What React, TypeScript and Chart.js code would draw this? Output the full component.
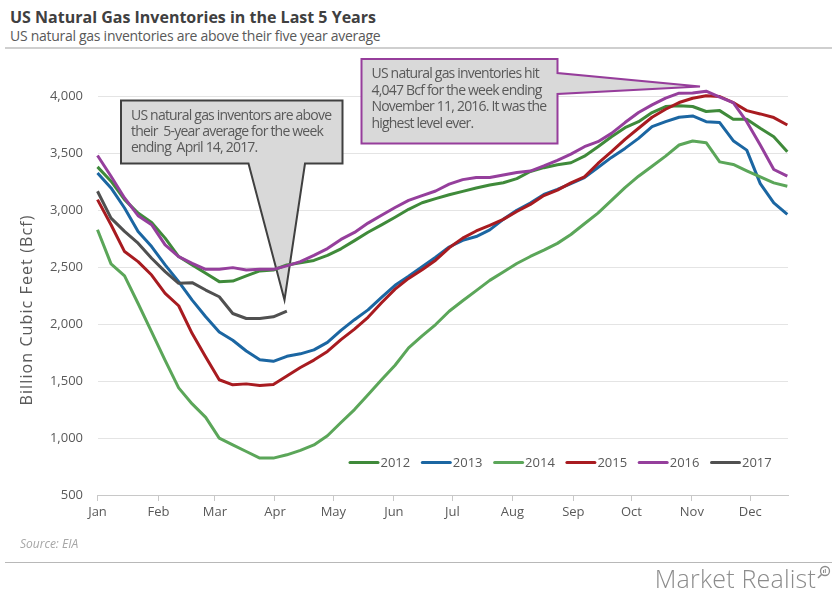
import React, { useEffect, useRef } from "react";
import { Chart, registerables } from "chart.js";

Chart.register(...registerables);

// ---------- data ----------
const years = ["2012", "2013", "2014", "2015", "2016", "2017"];
const monthLabels = ["Jan", "Feb", "Mar", "Apr", "May", "Jun", "Jul", "Aug", "Sep", "Oct", "Nov", "Dec"];
// position of each month label, in weeks from the start of the year
const monthTickWeeks = [0, 4.51, 8.68, 13.12, 17.44, 21.91, 26.24, 30.67, 35.18, 39.47, 43.94, 48.26];
const yAxisTitle = "Billion Cubic Feet (Bcf)";

// weekly working gas in storage, Bcf (week index 0..51)
const inv2012 = [3382, 3256, 3094, 2976, 2894, 2756, 2594, 2521, 2447, 2374, 2379, 2424, 2468, 2476, 2521, 2540, 2560, 2604, 2662, 2734, 2808, 2872, 2939, 3009, 3067, 3103, 3137, 3167, 3196, 3222, 3243, 3279, 3341, 3375, 3400, 3418, 3476, 3559, 3647, 3726, 3779, 3859, 3912, 3918, 3912, 3868, 3876, 3800, 3800, 3721, 3647, 3515];
const inv2013 = [3329, 3197, 3021, 2815, 2682, 2521, 2374, 2212, 2065, 1932, 1859, 1765, 1688, 1674, 1718, 1740, 1775, 1840, 1946, 2040, 2126, 2236, 2342, 2421, 2505, 2588, 2678, 2736, 2770, 2829, 2921, 3001, 3065, 3140, 3185, 3235, 3288, 3376, 3465, 3544, 3632, 3735, 3779, 3818, 3829, 3779, 3771, 3612, 3529, 3235, 3065, 2965];
const inv2014 = [2830, 2530, 2424, 2182, 1932, 1682, 1441, 1300, 1182, 1000, 941, 882, 824, 824, 853, 892, 940, 1020, 1137, 1250, 1380, 1512, 1640, 1792, 1897, 1997, 2114, 2206, 2295, 2385, 2459, 2533, 2595, 2650, 2710, 2788, 2882, 2976, 3088, 3200, 3300, 3388, 3476, 3574, 3609, 3594, 3426, 3403, 3347, 3294, 3241, 3212];
const inv2015 = [3094, 2874, 2638, 2550, 2432, 2271, 2162, 1918, 1712, 1512, 1468, 1476, 1462, 1471, 1545, 1620, 1685, 1761, 1865, 1957, 2061, 2189, 2308, 2402, 2479, 2562, 2671, 2756, 2819, 2868, 2921, 2990, 3052, 3130, 3178, 3241, 3294, 3412, 3515, 3624, 3721, 3818, 3888, 3947, 3985, 4006, 4000, 3947, 3876, 3847, 3815, 3750];
const inv2016 = [3482, 3300, 3109, 2953, 2874, 2697, 2594, 2535, 2482, 2482, 2497, 2476, 2482, 2482, 2512, 2550, 2605, 2664, 2745, 2806, 2888, 2957, 3025, 3087, 3130, 3170, 3230, 3270, 3289, 3288, 3311, 3333, 3345, 3390, 3440, 3494, 3559, 3603, 3676, 3771, 3859, 3926, 3985, 4029, 4030, 4047, 3994, 3947, 3779, 3574, 3359, 3300];
const inv2017 = [3168, 2932, 2815, 2712, 2579, 2462, 2359, 2365, 2300, 2241, 2094, 2050, 2050, 2065, 2115];

const seriesValues = [inv2012, inv2013, inv2014, inv2015, inv2016, inv2017];
const seriesColors = ["#3f8a3a", "#1b66a2", "#5ba659", "#a81b20", "#953f9c", "#505050"];

// ---------- annotations (layout, pixels) ----------
const callouts = [
  {
    shape: [[121, 100.5], [342.5, 100.5], [342.5, 163.5], [305, 163.5], [284.5, 300], [248.5, 163.5], [121, 163.5]],
    border: "#404040",
    textX: 131,
    baseline: 119.5,
    gap: 16,
    lines: ["US natural gas inventors are above", "their  5-year average for the week", "ending  April 14, 2017."],
  },
  {
    shape: [[361.5, 59], [557.5, 59], [557.5, 73], [700, 86.5], [557.5, 94], [557.5, 143.5], [361.5, 143.5]],
    border: "#963d9b",
    textX: 371.5,
    baseline: 78,
    gap: 16.5,
    lines: ["US natural gas inventories hit", "4,047 Bcf for the week ending", "November 11, 2016. It was the", "highest level ever."],
  },
];

const FONT = '"Open Sans", "DejaVu Sans", sans-serif';

const calloutPlugin = {
  id: "callouts",
  beforeDatasetsDraw(chart: any) {
    const ctx = chart.ctx as CanvasRenderingContext2D;
    ctx.save();
    for (const c of callouts) {
      ctx.beginPath();
      c.shape.forEach(([x, y], i) => (i ? ctx.lineTo(x, y) : ctx.moveTo(x, y)));
      ctx.closePath();
      ctx.fillStyle = "#d9d9d9";
      ctx.fill();
      ctx.lineWidth = 2;
      ctx.strokeStyle = c.border;
      ctx.lineJoin = "miter";
      ctx.stroke();
      ctx.fillStyle = "#595959";
      ctx.font = `14px ${FONT}`;
      (ctx as any).letterSpacing = "-0.8px";
      ctx.textBaseline = "alphabetic";
      ctx.textAlign = "left";
      c.lines.forEach((t, i) => ctx.fillText(t, c.textX, c.baseline + i * c.gap));
      (ctx as any).letterSpacing = "0px";
    }
    ctx.restore();
  },
};

const axisTitlePlugin = {
  id: "yAxisTitle",
  afterDraw(chart: any) {
    const ctx = chart.ctx as CanvasRenderingContext2D;
    ctx.save();
    ctx.translate(27, 310);
    ctx.rotate(-Math.PI / 2);
    ctx.font = `16px ${FONT}`;
    (ctx as any).letterSpacing = "1.1px";
    ctx.fillStyle = "#595959";
    ctx.textAlign = "center";
    ctx.textBaseline = "middle";
    ctx.fillText(yAxisTitle, 0, 0);
    ctx.restore();
  },
};

const legendPlugin = {
  id: "inlineLegend",
  afterDatasetsDraw(chart: any) {
    const ctx = chart.ctx as CanvasRenderingContext2D;
    const x0 = 350;
    const pitch = 72.3;
    const y = 462.5;
    ctx.save();
    ctx.font = `13px ${FONT}`;
    ctx.textBaseline = "middle";
    ctx.textAlign = "left";
    chart.data.datasets.forEach((ds: any, i: number) => {
      const x = x0 + i * pitch;
      ctx.beginPath();
      ctx.moveTo(x, y);
      ctx.lineTo(x + 28, y);
      ctx.strokeStyle = ds.borderColor;
      ctx.lineWidth = 3;
      ctx.lineCap = "round";
      ctx.stroke();
      ctx.fillStyle = "#595959";
      ctx.fillText(ds.label, x + 30.5, y + 0.5);
    });
    ctx.restore();
  },
};

export default function App() {
  const canvasRef = useRef<HTMLCanvasElement | null>(null);

  useEffect(() => {
    if (!canvasRef.current) return;
    const chart = new Chart(canvasRef.current, {
      type: "line",
      data: {
        datasets: seriesValues.map((vals, i) => ({
          label: years[i],
          data: vals.map((v, w) => ({ x: w, y: v })),
          borderColor: seriesColors[i],
          backgroundColor: seriesColors[i],
          borderWidth: 3,
          pointRadius: 0,
          tension: 0,
          clip: false as any,
          order: seriesValues.length - i,
          borderJoinStyle: "round" as const,
        })),
      },
      options: {
        responsive: false,
        animation: false,
        devicePixelRatio: 1,
        layout: { padding: { left: 0, top: 96.5, right: 49, bottom: 0 } },
        plugins: {
          legend: { display: false },
          tooltip: { enabled: false },
          title: { display: false },
        },
        scales: {
          x: {
            type: "linear",
            min: 0,
            max: 51.05,
            afterBuildTicks: (s: any) => {
              s.ticks = monthTickWeeks.map((v) => ({ value: v }));
            },
            afterFit: (s: any) => {
              s.height = 105;
            },
            ticks: {
              autoSkip: false,
              maxRotation: 0,
              minRotation: 0,
              callback: (_v: any, i: number) => monthLabels[i],
              color: "#595959",
              font: { family: FONT, size: 13 },
              padding: 3,
            },
            grid: { drawOnChartArea: false, drawTicks: true, tickLength: 6, color: "#c8c8c8" },
            border: { display: true, color: "#c8c8c8", width: 1 },
          },
          y: {
            min: 500,
            max: 4000,
            afterFit: (s: any) => {
              s.width = 97.5;
            },
            ticks: {
              stepSize: 500,
              callback: (v: any) => Number(v).toLocaleString("en-US"),
              color: "#595959",
              font: { family: FONT, size: 13 },
              padding: 14.5,
            },
            grid: { color: "#e4e4e4", drawTicks: false, lineWidth: 1 },
            border: { display: false },
          },
        },
      },
      plugins: [calloutPlugin, legendPlugin, axisTitlePlugin],
    } as any);
    return () => chart.destroy();
  }, []);

  const abs = (s: React.CSSProperties): React.CSSProperties => ({ position: "absolute", whiteSpace: "nowrap", ...s });

  return (
    <div style={{ position: "absolute", left: 0, top: 0, width: 837, height: 600, background: "#ffffff", overflow: "hidden" }}>
      <div style={abs({ left: 10, top: 6.8, fontFamily: FONT, fontWeight: 700, fontSize: 16, lineHeight: "20px", color: "#404040" })}>
        US Natural Gas Inventories in the Last 5 Years
      </div>
      <div style={abs({ left: 10, top: 27.3, fontFamily: FONT, fontSize: 14, lineHeight: "18px", color: "#595959", letterSpacing: "-0.28px" })}>
        US natural gas inventories are above their five year average
      </div>
      <div style={abs({ left: 5, top: 46.5, width: 827, height: 2, background: "#cfcfcf" })} />
      <canvas ref={canvasRef} width={837} height={600} style={{ position: "absolute", left: 0, top: 0, width: 837, height: 600 }} />
      <div style={abs({ left: 20, top: 536.3, fontFamily: FONT, fontStyle: "italic", fontSize: 12, lineHeight: "16px", color: "#a6a6a6" })}>
        Source: EIA
      </div>
      <div style={abs({ left: 5, top: 562, width: 827, height: 1, background: "#b8b8b8" })} />
      <div style={abs({ right: 21, top: 563.5, fontFamily: FONT, fontWeight: 300, fontSize: 25, lineHeight: "29px", color: "#8c8c8c", letterSpacing: "0.2px" })}>
        Market Realist
      </div>
      <svg width="16" height="16" viewBox="0 0 16 16" style={{ position: "absolute", left: 816, top: 565 }}>
        <circle cx="9" cy="6" r="4.5" fill="none" stroke="#8c8c8c" strokeWidth="1.3" />
        <line x1="5.8" y1="9.2" x2="2" y2="13" stroke="#8c8c8c" strokeWidth="1.6" />
        <rect x="7" y="5" width="1" height="3" fill="#8c8c8c" />
        <rect x="8.8" y="4" width="1" height="4" fill="#8c8c8c" />
      </svg>
    </div>
  );
}
